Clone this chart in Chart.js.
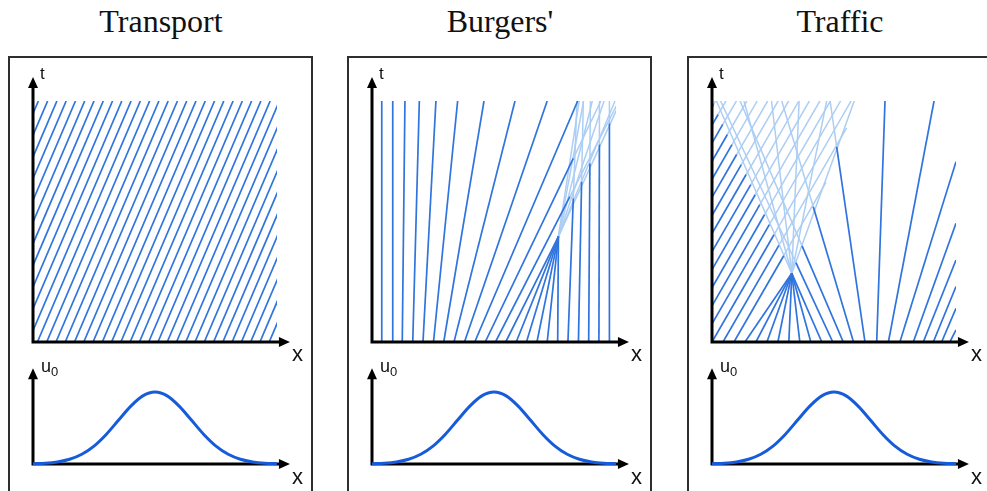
<!DOCTYPE html>
<html>
<head>
    <title>Characteristics: Transport, Burgers', Traffic</title>
    <script src="https://cdn.jsdelivr.net/npm/chart.js"></script>
    <style>
        body {
            margin: 0;
            background: #fff;
            width: 987px;
            height: 491px;
            overflow: hidden;
            position: relative;
            font-family: "Liberation Sans", Arial, sans-serif;
        }
        .panel {
            position: absolute;
            top: 0;
            width: 339px;
            height: 491px;
        }
        .title {
            position: absolute;
            top: 3px;
            left: 0;
            width: 322px;
            text-align: center;
            font-family: "Liberation Serif", "Times New Roman", serif;
            font-size: 32px;
            color: #111;
        }
        .box {
            position: absolute;
            left: 8px;
            top: 56px;
            width: 301px;
            height: 470px;
            border: 2px solid #2e2e2e;
        }
        canvas {
            position: absolute;
        }
        .lbl {
            position: absolute;
            line-height: 1;
            color: #111;
        }
    </style>
</head>
<body>
    <div id="root"></div>

    <script>
        // panel titles
        const titles = ['Transport', "Burgers'", 'Traffic'];

        // characteristic lines, segments [x1, t1, x2, t2] in axis units (x and t both 0..100)
        // transport: every line has the same slope
        const transportFootX = [-40, -36.2, -32.4, -28.6, -24.8, -21, -17.2, -13.4, -9.6, -5.8, -2, 1.8, 5.6, 9.4,
            13.2, 17, 20.8, 24.6, 28.4, 32.2, 36, 39.8, 43.6, 47.4, 51.2, 55, 58.8, 62.6, 66.4, 70.2, 74, 77.8,
            81.6, 85.4, 89.2, 93, 96.8];
        const transportTopX = [2.2, 6, 9.8, 13.6, 17.4, 21.2, 25, 28.8, 32.6, 36.4, 40.2, 44, 47.8, 51.6, 55.4,
            59.2, 63, 66.8, 70.6, 74.4, 78.2, 82, 85.8, 89.6, 93.4, 97.2, 101, 104.8, 108.6, 112.4, 116.2, 120,
            123.8, 127.6, 131.4, 135.2, 139];

        const burgersDark = [
            [3.9, 0, 4.0, 100], [8.2, 0, 8.5, 100], [12.4, 0, 13.5, 100], [16.7, 0, 19.4, 100],
            [20.9, 0, 26.2, 100], [25.2, 0, 35.1, 100], [29.4, 0, 45.9, 100], [33.6, 0, 58.6, 100],
            [37.9, 0, 71.8, 100], [42.1, 0, 84.3, 100], [46.4, 0, 82.5, 76.2], [50.6, 0, 81.1, 60.3],
            [54.8, 0, 76.4, 43.7], [59.1, 0, 76.4, 43.7], [63.3, 0, 76.4, 43.7], [67.6, 0, 76.4, 43.7],
            [71.8, 0, 76.4, 43.7], [76.1, 0, 76.4, 43.7], [80.3, 0, 82.5, 59.6], [84.6, 0, 85.9, 66.5],
            [88.8, 0, 89.3, 74.1], [93.0, 0, 93.2, 82.0], [97.3, 0, 97.3, 90.7]
        ];
        const burgersLight = [
            [82.5, 76.2, 93.8, 100], [81.1, 60.3, 101.2, 100], [76.4, 43.7, 101.9, 100], [76.4, 43.7, 99.6, 100],
            [76.4, 43.7, 95.1, 100], [76.4, 43.7, 90.3, 100], [76.4, 43.7, 86.7, 100], [76.4, 43.7, 84.9, 100],
            [82.5, 59.6, 84.0, 100], [85.9, 66.5, 86.6, 100], [89.3, 74.1, 89.5, 100], [93.2, 82.0, 93.2, 100],
            [97.3, 90.7, 97.3, 100]
        ];

        const trafficDark = [
            [0, 0, 25.4, 44.5], [4.5, 0, 27.4, 40.1], [9, 0, 29.4, 35.8],
            [0, 7.5, 23.5, 48.7], [0, 15, 21.5, 52.8], [0, 22.5, 19.6, 57], [0, 30, 17.7, 61.1],
            [0, 37.5, 15.9, 65.3], [0, 45, 14.0, 69.5], [0, 52.5, 12.0, 73.6], [0, 60, 10.1, 77.8],
            [0, 67.5, 8.2, 81.9], [0, 75, 6.3, 86.1], [0, 82.5, 4.4, 90.3], [0, 90, 2.5, 94.4], [0, 97.5, 0.6, 98.6],
            [13.5, 0, 32.7, 28.5], [18, 0, 32.7, 28.5], [22.5, 0, 32.7, 28.5], [27, 0, 32.7, 28.5],
            [31.5, 0, 32.7, 28.5], [36, 0, 32.7, 28.5], [40.5, 0, 32.7, 28.5], [45, 0, 32.7, 28.5],
            [49.5, 0, 34.4, 32.9], [53.8, 0, 36.9, 39.9], [58, 0, 41.5, 56.1], [62.7, 0, 51.1, 81],
            [67.5, 0, 70.9, 100], [72.3, 0, 91, 100], [77, 0, 100, 74.8], [82.5, 0, 100, 49.3],
            [86.6, 0, 100, 34], [90.7, 0, 100, 23], [94.1, 0, 100, 14], [97.5, 0, 100, 5]
        ];
        const trafficLight = [
            [25.4, 44.5, 57, 100], [27.4, 40.1, 55.2, 88.9], [29.4, 35.8, 46.7, 66.2],
            [23.5, 48.7, 52.7, 100], [21.5, 52.8, 48.5, 100], [19.6, 57, 44.2, 100], [17.7, 61.1, 39.9, 100],
            [15.9, 65.3, 35.6, 100], [14.0, 69.5, 31.4, 100], [12.0, 73.6, 27.1, 100], [10.1, 77.8, 22.8, 100],
            [8.2, 81.9, 18.5, 100], [6.3, 86.1, 14.3, 100], [4.4, 90.3, 10, 100], [2.5, 94.4, 5.7, 100],
            [0.6, 98.6, 1.4, 100],
            [32.7, 28.5, 58.3, 100], [32.7, 28.5, 47, 100], [32.7, 28.5, 35.7, 100], [32.7, 28.5, 24.4, 100],
            [32.7, 28.5, 13.1, 100], [32.7, 28.5, 1.8, 100],
            [34.4, 32.9, 3.5, 100], [36.9, 39.9, 11.5, 100], [41.5, 56.1, 28.6, 100], [51.1, 81, 48.4, 100]
        ];

        // initial profile u0(x), same bump in all three panels
        const u0X = [0, 5, 10, 15, 20, 25, 30, 35, 40, 45, 50, 55, 60, 65, 70, 75, 80, 85, 90, 95, 100];
        const u0Y = [0.004, 0.011, 0.029, 0.066, 0.135, 0.249, 0.411, 0.607, 0.801, 0.946, 1,
            0.946, 0.801, 0.607, 0.411, 0.249, 0.135, 0.066, 0.029, 0.011, 0.004];

        const DARK = 'rgb(48, 116, 222)';
        const LIGHT = 'rgb(172, 206, 244)';
        const CURVE = 'rgb(22, 92, 218)';

        // black axes with arrow heads, drawn from the scales
        function drawAxes(chart, opts) {
            const ctx = chart.ctx;
            const xs = chart.scales.x, ys = chart.scales.y;
            const x0 = xs.getPixelForValue(0), y0 = ys.getPixelForValue(0);
            const xt = xs.getPixelForValue(opts.xTip), yt = ys.getPixelForValue(opts.yTip);
            ctx.save();
            ctx.strokeStyle = '#000';
            ctx.fillStyle = '#000';
            ctx.lineWidth = 3;
            ctx.beginPath();
            ctx.moveTo(x0 - 1.5, y0);
            ctx.lineTo(xt - 8, y0);
            ctx.moveTo(x0, y0 + 1.5);
            ctx.lineTo(x0, yt + 8);
            ctx.stroke();
            ctx.beginPath();
            ctx.moveTo(xt, y0);
            ctx.lineTo(xt - 11, y0 - 5);
            ctx.lineTo(xt - 11, y0 + 5);
            ctx.closePath();
            ctx.fill();
            ctx.beginPath();
            ctx.moveTo(x0, yt);
            ctx.lineTo(x0 - 5, yt + 11);
            ctx.lineTo(x0 + 5, yt + 11);
            ctx.closePath();
            ctx.fill();
            ctx.restore();
        }
        const arrowAxes = {
            id: 'arrowAxes',
            beforeDatasetsDraw(chart, args, opts) { if (opts.under) drawAxes(chart, opts); },
            afterDatasetsDraw(chart, args, opts) { if (!opts.under) drawAxes(chart, opts); }
        };

        function segment(s) {
            return [{ x: s[0], y: s[1] }, { x: s[2], y: s[3] }];
        }

        function makeCanvas(parent, left, top, w, h) {
            const c = document.createElement('canvas');
            c.width = w;
            c.height = h;
            c.style.left = left + 'px';
            c.style.top = top + 'px';
            c.style.width = w + 'px';
            c.style.height = h + 'px';
            parent.appendChild(c);
            return c;
        }

        function characteristicsChart(canvas, dark, light) {
            const datasets = [];
            dark.forEach(s => datasets.push({ data: segment(s), borderColor: DARK, borderWidth: 1.7, pointRadius: 0 }));
            light.forEach(s => datasets.push({ data: segment(s), borderColor: LIGHT, borderWidth: 1.5, pointRadius: 0 }));
            return new Chart(canvas, {
                type: 'line',
                data: { datasets: datasets },
                options: {
                    responsive: false,
                    animation: false,
                    devicePixelRatio: 1,
                    layout: { padding: { left: 19, top: 35, right: 27, bottom: 14 } },
                    plugins: {
                        legend: { display: false },
                        tooltip: { enabled: false },
                        arrowAxes: { xTip: 105.3, yTip: 110, under: false }
                    },
                    scales: {
                        x: { type: 'linear', min: 0, max: 100, display: false },
                        y: { type: 'linear', min: 0, max: 100, display: false }
                    }
                },
                plugins: [arrowAxes]
            });
        }

        function profileChart(canvas) {
            return new Chart(canvas, {
                type: 'line',
                data: {
                    datasets: [{
                        data: u0X.map((x, i) => ({ x: x, y: u0Y[i] })),
                        borderColor: CURVE,
                        borderWidth: 3,
                        pointRadius: 0,
                        cubicInterpolationMode: 'monotone',
                        clip: false
                    }]
                },
                options: {
                    responsive: false,
                    animation: false,
                    devicePixelRatio: 1,
                    layout: { padding: { left: 19, top: 32, right: 27, bottom: 11 } },
                    plugins: {
                        legend: { display: false },
                        tooltip: { enabled: false },
                        arrowAxes: { xTip: 105.3, yTip: 1.33, under: true }
                    },
                    scales: {
                        x: { type: 'linear', min: 0, max: 100, display: false },
                        y: { type: 'linear', min: 0, max: 1, display: false }
                    }
                },
                plugins: [arrowAxes]
            });
        }

        function label(parent, html, left, top, size) {
            const d = document.createElement('div');
            d.className = 'lbl';
            d.style.left = left + 'px';
            d.style.top = top + 'px';
            d.style.fontSize = size + 'px';
            d.innerHTML = html;
            parent.appendChild(d);
        }

        const transportDark = transportFootX.map((x, i) => [x, 0, transportTopX[i], 100]);
        const panels = [
            { dark: transportDark, light: [] },
            { dark: burgersDark, light: burgersLight },
            { dark: trafficDark, light: trafficLight }
        ];
        const offsets = [0, 339, 679];

        const root = document.getElementById('root');
        panels.forEach((p, i) => {
            const panel = document.createElement('div');
            panel.className = 'panel';
            panel.style.left = offsets[i] + 'px';
            root.appendChild(panel);

            const t = document.createElement('div');
            t.className = 'title';
            t.textContent = titles[i];
            panel.appendChild(t);

            const box = document.createElement('div');
            box.className = 'box';
            panel.appendChild(box);

            characteristicsChart(makeCanvas(panel, 14, 66, 290, 290), p.dark, p.light);
            profileChart(makeCanvas(panel, 14, 360, 290, 115));

            label(panel, 't', 40, 65, 17);
            label(panel, 'x', 292, 343, 22);
            label(panel, 'u<sub style="font-size:13px;vertical-align:-4px">0</sub>', 41, 357, 18);
            label(panel, 'x', 292, 466, 22);
        });
    </script>
</body>
</html>
